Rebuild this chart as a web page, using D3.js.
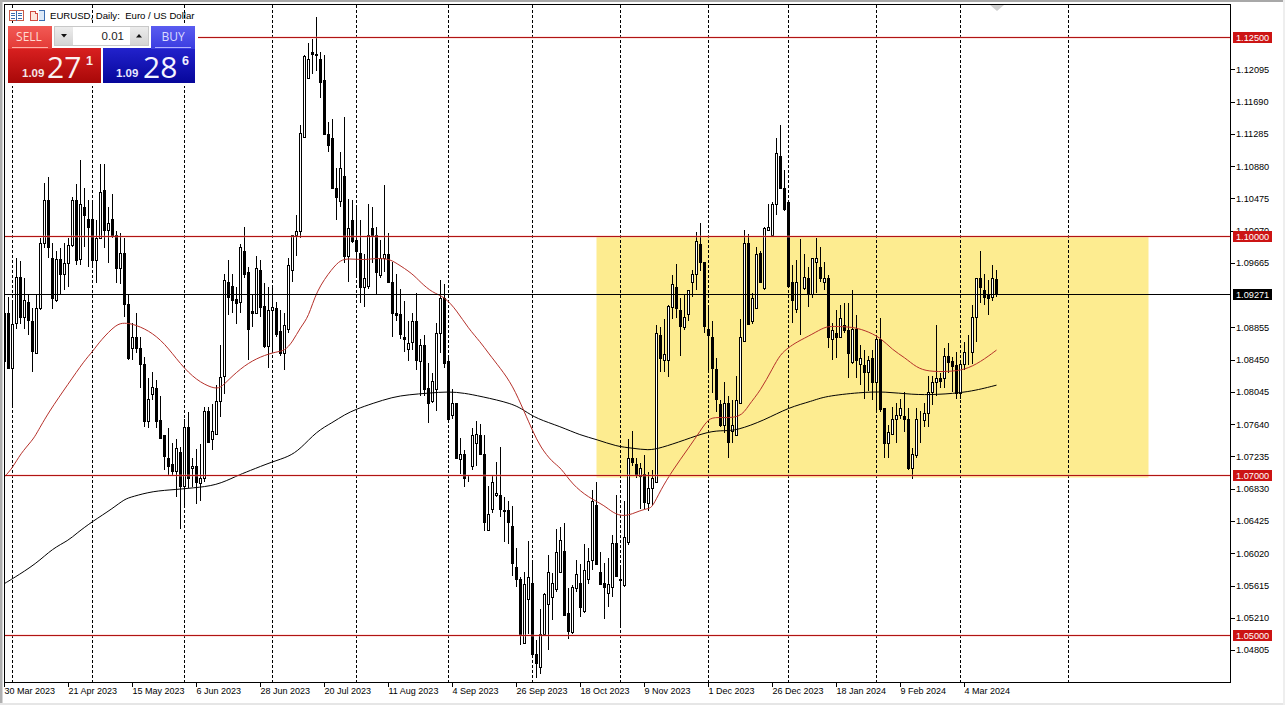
<!DOCTYPE html>
<html>
<head>
<meta charset="utf-8">
<script src="https://cdn.jsdelivr.net/npm/d3@7/dist/d3.min.js"></script>
<style>
html,body{margin:0;padding:0;background:#fff;overflow:hidden}
svg{display:block;font-family:"Liberation Sans",Arial,sans-serif}
</style>
</head>
<body>
<svg id="chart" width="1285" height="705"></svg>
<script>
const opens = [
1.0904,1.0904,1.0835,1.0891,1.0949,1.0899,1.0917,1.0894,1.0853,1.0910,
1.0991,1.1046,1.0973,1.0920,1.0971,1.0953,1.0966,1.0989,1.1045,1.0971,
1.1037,1.1021,1.1022,1.0970,1.0998,1.1058,1.1008,1.1022,1.1002,1.0960,
1.0979,1.0915,1.0860,1.0874,1.0860,1.0839,1.0768,1.0802,1.0810,1.0769,
1.0750,1.0721,1.0714,1.0705,1.0729,1.0687,1.0761,1.0709,1.0711,1.0690,
1.0697,1.0781,1.0746,1.0752,1.0793,1.0825,1.0943,1.0937,1.0921,1.0917,
1.0982,1.0955,1.0906,1.0904,1.0957,1.0912,1.0862,1.0907,1.0910,1.0881,
1.0853,1.0884,1.0957,1.1001,1.1006,1.1125,1.1199,1.1231,1.1229,1.1223,
1.1196,1.1128,1.1123,1.1061,1.1044,1.1076,1.0975,1.1020,1.0995,1.0979,
1.0936,1.0938,1.1010,1.1002,1.0951,1.0972,1.0978,1.0943,1.0903,1.0902,
1.0874,1.0858,1.0867,1.0894,1.0843,1.0863,1.0809,1.0793,1.0808,1.0878,
1.0923,1.0843,1.0775,1.0790,1.0720,1.0726,1.0696,1.0712,1.0741,1.0751,
1.0727,1.0631,1.0657,1.0675,1.0675,1.0656,1.0656,1.0636,1.0585,1.0570,
1.0489,1.0544,1.0565,1.0476,1.0459,1.0501,1.0538,1.0547,1.0557,1.0579,
1.0605,1.0527,1.0503,1.0558,1.0565,1.0530,1.0570,1.0594,1.0662,1.0578,
1.0565,1.0552,1.0560,1.0615,1.0570,1.0562,1.0616,1.0721,1.0714,1.0699,
1.0702,1.0665,1.0684,1.0691,1.0876,1.0845,1.0845,1.0911,1.0936,1.0907,
1.0886,1.0902,1.0942,1.0953,1.0990,1.0967,1.0883,1.0874,1.0833,1.0789,
1.0763,1.0790,1.0755,1.0751,1.0791,1.0869,1.0992,1.0893,1.0910,1.0979,
1.0935,1.1008,1.1001,1.1041,1.1101,1.1060,1.1043,1.0942,1.0908,1.0940,
1.0935,1.0948,1.0927,1.0967,1.0961,1.0943,1.0947,1.0871,1.0879,1.0873,
1.0888,1.0882,1.0842,1.0883,1.0839,1.0838,1.0830,1.0847,1.0817,1.0871,
1.0784,1.0741,1.0752,1.0771,1.0776,1.0774,1.0770,1.0709,1.0725,1.0771,
1.0769,1.0778,1.0805,1.0817,1.0822,1.0822,1.0849,1.0843,1.0838,1.0803,
1.0840,1.0855,1.0854,1.0898,1.0947,1.0932,1.0926,1.0924,1.0946];
const closes = [
1.0843,1.0835,1.0890,1.0949,1.0899,1.0920,1.0895,1.0856,1.0910,1.0991,
1.1046,1.0986,1.0922,1.0971,1.0953,1.0966,1.0989,1.1045,1.0970,1.1040,
1.1026,1.1012,1.0970,1.0998,1.1056,1.1008,1.1016,1.1001,1.0960,1.0979,
1.0915,1.0847,1.0873,1.0860,1.0839,1.0768,1.0796,1.0811,1.0768,1.0747,
1.0724,1.0712,1.0705,1.0734,1.0687,1.0761,1.0697,1.0712,1.0691,1.0697,
1.0781,1.0742,1.0756,1.0793,1.0823,1.0945,1.0924,1.0920,1.0916,1.0986,
1.0953,1.0884,1.0903,1.0960,1.0911,1.0862,1.0907,1.0911,1.0877,1.0853,
1.0888,1.0964,1.1001,1.1007,1.1129,1.1226,1.1222,1.1229,1.1227,1.1193,
1.1128,1.1114,1.1060,1.1049,1.1085,1.0975,1.1010,1.0994,1.0982,1.0936,
1.0948,1.1001,1.1001,1.0955,1.0973,1.0978,1.0942,1.0903,1.0901,1.0877,
1.0871,1.0866,1.0894,1.0844,1.0863,1.0808,1.0790,1.0818,1.0879,1.0923,
1.0841,1.0770,1.0791,1.0721,1.0726,1.0696,1.0696,1.0750,1.0752,1.0727,
1.0641,1.0651,1.0691,1.0677,1.0658,1.0655,1.0641,1.0590,1.0570,1.0499,
1.0564,1.0572,1.0476,1.0464,1.0501,1.0551,1.0578,1.0565,1.0603,1.0618,
1.0525,1.0505,1.0559,1.0576,1.0534,1.0581,1.0592,1.0668,1.0589,1.0564,
1.0560,1.0563,1.0615,1.0573,1.0568,1.0622,1.0722,1.0716,1.0700,1.0709,
1.0666,1.0684,1.0697,1.0878,1.0847,1.0852,1.0912,1.0940,1.0910,1.0887,
1.0899,1.0933,1.0952,1.0994,1.0967,1.0887,1.0876,1.0835,1.0796,1.0763,
1.0791,1.0742,1.0763,1.0794,1.0873,1.0991,1.0890,1.0923,1.0978,1.0942,
1.1010,1.1011,1.1041,1.1105,1.1060,1.1034,1.0937,1.0920,1.0943,1.0940,
1.0949,1.0929,1.0972,1.0972,1.0948,1.0948,1.0873,1.0882,1.0874,1.0897,
1.0882,1.0853,1.0884,1.0845,1.0847,1.0830,1.0845,1.0817,1.0871,1.0783,
1.0741,1.0754,1.0771,1.0776,1.0784,1.0771,1.0709,1.0726,1.0771,1.0770,
1.0778,1.0805,1.0817,1.0822,1.0818,1.0849,1.0842,1.0837,1.0803,1.0839,
1.0854,1.0854,1.0898,1.0947,1.0936,1.0924,1.0923,1.0947,1.09271];
const highs = [
1.0910,1.0924,1.0916,1.0972,1.0969,1.0948,1.0928,1.0910,1.0928,1.0998,
1.1067,1.1074,1.0992,1.0982,1.0985,1.0991,1.0998,1.1049,1.1066,1.1095,
1.1061,1.1045,1.1043,1.1020,1.1090,1.1090,1.1036,1.1053,1.1007,1.1004,
1.0998,1.0928,1.0891,1.0903,1.0873,1.0848,1.0822,1.0829,1.0820,1.0800,
1.0750,1.0759,1.0741,1.0746,1.0735,1.0771,1.0779,1.0722,1.0733,1.0739,
1.0786,1.0785,1.0789,1.0813,1.0863,1.0952,1.0970,1.0953,1.0936,1.0990,
1.1011,1.0961,1.0926,1.0975,1.0970,1.0941,1.0936,1.0937,1.0917,1.0907,
1.0903,1.0972,1.1001,1.1026,1.1139,1.1227,1.1243,1.1248,1.1275,1.1231,
1.1227,1.1143,1.1147,1.1086,1.1106,1.1149,1.1047,1.1045,1.1036,1.1020,
1.0978,1.1041,1.1036,1.1011,1.0995,1.1064,1.1004,1.0967,1.0952,1.0934,
1.0918,1.0893,1.0903,1.0929,1.0871,1.0876,1.0841,1.0828,1.0891,1.0945,
1.0940,1.0850,1.0808,1.0791,1.0747,1.0731,1.0699,1.0759,1.0768,1.0764,
1.0750,1.0687,1.0700,1.0717,1.0735,1.0672,1.0668,1.0661,1.0608,1.0572,
1.0578,1.0617,1.0590,1.0493,1.0532,1.0552,1.0600,1.0577,1.0633,1.0635,
1.0640,1.0558,1.0562,1.0594,1.0589,1.0614,1.0609,1.0682,1.0691,1.0604,
1.0590,1.0596,1.0625,1.0675,1.0583,1.0667,1.0746,1.0756,1.0722,1.0715,
1.0725,1.0704,1.0706,1.0888,1.0886,1.0896,1.0913,1.0951,1.0965,1.0922,
1.0926,1.0933,1.0958,1.1005,1.1016,1.0967,1.0913,1.0894,1.0847,1.0794,
1.0817,1.0800,1.0794,1.0825,1.0896,1.1008,1.1003,1.0929,1.0986,1.0982,
1.1011,1.1040,1.1043,1.1123,1.1139,1.1083,1.1043,1.0964,1.0970,1.0997,
1.0978,1.0961,1.0972,1.0998,1.0986,1.0967,1.0951,1.0891,1.0907,1.0913,
1.0916,1.0916,1.0932,1.0901,1.0863,1.0857,1.0850,1.0857,1.0873,1.0897,
1.0784,1.0763,1.0785,1.0790,1.0795,1.0805,1.0784,1.0734,1.0784,1.0781,
1.0790,1.0824,1.0824,1.0888,1.0828,1.0859,1.0866,1.0848,1.0854,1.0844,
1.0867,1.0876,1.0913,1.0947,1.0981,1.0953,1.0945,1.0964,1.0958];
const lows = [
1.0841,1.0834,1.0784,1.0884,1.0890,1.0884,1.0876,1.0829,1.0852,1.0907,
1.0985,1.0972,1.0908,1.0917,1.0928,1.0932,1.0936,1.0986,1.0964,1.0964,
1.0986,1.0961,1.0964,1.0941,1.0996,1.0985,1.0966,1.0998,1.0941,1.0940,
1.0898,1.0845,1.0844,1.0853,1.0810,1.0761,1.0759,1.0794,1.0759,1.0746,
1.0707,1.0700,1.0700,1.0672,1.0633,1.0660,1.0684,1.0685,1.0664,1.0667,
1.0691,1.0741,1.0731,1.0751,1.0773,1.0802,1.0901,1.0904,1.0890,1.0904,
1.0948,1.0844,1.0886,1.0903,1.0898,1.0859,1.0835,1.0857,1.0873,1.0849,
1.0832,1.0878,1.0943,1.0975,1.0998,1.1124,1.1198,1.1203,1.1207,1.1173,
1.1127,1.1106,1.1059,1.1020,1.1036,1.0966,1.0942,1.0992,1.0947,1.0916,
1.0911,1.0934,1.0966,1.0927,1.0948,1.0955,1.0941,1.0873,1.0894,1.0871,
1.0855,1.0843,1.0857,1.0832,1.0800,1.0800,1.0765,1.0791,1.0781,1.0853,
1.0834,1.0769,1.0771,1.0720,1.0701,1.0685,1.0692,1.0706,1.0712,1.0726,
1.0630,1.0630,1.0652,1.0672,1.0648,1.0616,1.0613,1.0574,1.0560,1.0487,
1.0488,1.0501,1.0474,1.0446,1.0450,1.0498,1.0480,1.0518,1.0553,1.0578,
1.0524,1.0494,1.0501,1.0553,1.0522,1.0527,1.0564,1.0581,1.0588,1.0563,
1.0520,1.0534,1.0547,1.0572,1.0511,1.0560,1.0612,1.0711,1.0697,1.0657,
1.0658,1.0655,1.0663,1.0690,1.0829,1.0829,1.0823,1.0896,1.0897,1.0850,
1.0882,1.0893,1.0924,1.0933,1.0956,1.0878,1.0828,1.0803,1.0779,1.0761,
1.0753,1.0722,1.0740,1.0750,1.0790,1.0868,1.0889,1.0890,1.0908,1.0941,
1.0933,1.1007,1.1000,1.1026,1.1059,1.1032,1.0936,1.0891,1.0904,1.0876,
1.0932,1.0911,1.0922,1.0929,1.0942,1.0932,1.0860,1.0844,1.0847,1.0872,
1.0879,1.0822,1.0840,1.0822,1.0813,1.0795,1.0806,1.0794,1.0778,1.0779,
1.0722,1.0721,1.0751,1.0740,1.0771,1.0754,1.0707,1.0695,1.0722,1.0741,
1.0760,1.0760,1.0788,1.0800,1.0810,1.0810,1.0828,1.0804,1.0795,1.0796,
1.0832,1.0838,1.0840,1.0867,1.0916,1.0913,1.0901,1.0918,1.0924];

// moving averages read at selected bars
const maFastBars = [1,3,5,8,9,12,17,21,23,25,29,31,33,37,41,45,49,53,55,57,61,65,69,71,73,75,77,79,83,85,87,91,93,97,99,103,105,108,111,114,117,120,122,125,128,131,133,135,138,140,143,147,151,153,156,160,162,163,165,168,172,175,177,179,185,187,190,193,195,197,199,203,206,208,213,216,220,223,226,229,232,237,241,245,249];
const maFast = [1.0698,1.0709,1.0727,1.0744,1.0752,1.0779,1.0815,1.0844,1.0855,1.0869,1.0890,1.0891,1.0890,1.0882,1.0866,1.0839,1.0819,1.0809,1.0809,1.0820,1.0838,1.0849,1.0855,1.0856,1.0867,1.0886,1.0898,1.0932,1.0960,1.0970,1.0972,1.0970,1.0972,1.0972,1.0966,1.0953,1.0942,1.0929,1.0924,1.0907,1.0884,1.0867,1.0853,1.0834,1.0813,1.0779,1.0756,1.0735,1.0716,1.0710,1.0688,1.0672,1.0662,1.0653,1.0647,1.0656,1.0658,1.0660,1.0681,1.0706,1.0734,1.0756,1.0771,1.0773,1.0771,1.0788,1.0806,1.0834,1.0852,1.0860,1.0867,1.0877,1.0886,1.0887,1.0886,1.0882,1.0873,1.0857,1.0848,1.0835,1.0830,1.0830,1.0832,1.0842,1.0857];
const maSlowBars = [1,3,9,13,17,19,23,28,31,33,38,44,48,54,59,62,68,72,75,79,83,86,89,93,98,102,107,112,116,120,128,131,134,140,145,149,154,158,162,165,171,177,181,184,191,197,203,206,215,221,228,234,242,249];
const maSlow = [1.0564,1.0570,1.0589,1.0608,1.0618,1.0627,1.0642,1.0658,1.0670,1.0673,1.0680,1.0682,1.0684,1.0687,1.0699,1.0705,1.0717,1.0723,1.0733,1.0755,1.0766,1.0776,1.0783,1.0790,1.0798,1.0801,1.0803,1.0805,1.0803,1.0799,1.0790,1.0781,1.0771,1.0761,1.0750,1.0745,1.0736,1.0734,1.0731,1.0734,1.0744,1.0755,1.0756,1.0756,1.0769,1.0785,1.0793,1.0799,1.0804,1.0805,1.0801,1.0801,1.0804,1.0813];

const levelPrices = [1.125, 1.1, 1.07, 1.05];
const currentPrice = 1.09271;
const zoneTop = 1.1, zoneBottom = 1.0697, zoneStartBar = 149, zoneEndBar = 287;
const separatorBars = [3,23,46,68,89,112,133,155,177,197,219,240,267];
const dateBars = [1,17,33,49,65,81,97,113,129,145,161,177,193,209,225,241];
const dateLabels = ["30 Mar 2023","21 Apr 2023","15 May 2023","6 Jun 2023","28 Jun 2023","20 Jul 2023","11 Aug 2023","4 Sep 2023","26 Sep 2023","18 Oct 2023","9 Nov 2023","1 Dec 2023","26 Dec 2023","18 Jan 2024","9 Feb 2024","4 Mar 2024"];
const priceTicks = [1.12095,1.1169,1.11285,1.1088,1.10475,1.1007,1.09665,1.08855,1.0845,1.08045,1.0764,1.07235,1.0683,1.06425,1.0602,1.05615,1.0521,1.04805];
const chartTitle = "EURUSD, Daily:  Euro / US Dollar";

const svg = d3.select("#chart");
const L = 4.5, R = 1230.5, T = 4.5, B = 682.5;
const x = d3.scaleLinear().domain([1,249]).range([4.5,996.5]);
const y = d3.scaleLinear().domain([1.125,1.05]).range([37,634.5]);
const RED = "#b01414";

// window edges
svg.append("rect").attr("x",0).attr("y",0).attr("width",1285).attr("height",2).attr("fill","#a8a8a8");
svg.append("rect").attr("x",0).attr("y",0).attr("width",2.5).attr("height",705).attr("fill","#b0b0b0");
svg.append("rect").attr("x",0).attr("y",703).attr("width",1285).attr("height",2).attr("fill","#e6e6e6");
svg.append("rect").attr("x",1283).attr("y",0).attr("width",2).attr("height",705).attr("fill","#eeeeee");

const clip = svg.append("defs").append("clipPath").attr("id","plot");
clip.append("rect").attr("x",L).attr("y",T).attr("width",R-L).attr("height",B-T);
const plot = svg.append("g").attr("clip-path","url(#plot)");

// zone
plot.append("rect")
  .attr("x",x(zoneStartBar)).attr("width",x(zoneEndBar)-x(zoneStartBar))
  .attr("y",y(zoneTop)).attr("height",y(zoneBottom)-y(zoneTop))
  .attr("fill","#fdec90");

// separators
plot.selectAll("line.sep").data(separatorBars).join("line")
  .attr("class","sep")
  .attr("x1",d=>Math.floor(x(d))+0.5).attr("x2",d=>Math.floor(x(d))+0.5)
  .attr("y1",T).attr("y2",B)
  .attr("stroke","#000").attr("stroke-width",1).attr("stroke-dasharray","3,2")
  .attr("shape-rendering","crispEdges");

// candles
const bars = d3.range(opens.length).map(i=>({k:i+1,o:opens[i],h:highs[i],l:lows[i],c:closes[i]}));
const g = plot.append("g").attr("shape-rendering","crispEdges");
g.selectAll("line.wick").data(bars).join("line")
  .attr("class","wick")
  .attr("x1",d=>x(d.k)).attr("x2",d=>x(d.k))
  .attr("y1",d=>y(d.h)).attr("y2",d=>y(d.l))
  .attr("stroke","#000");
g.selectAll("rect.body").data(bars).join("rect")
  .attr("class","body")
  .attr("x",d=>x(d.k)-1).attr("width",2)
  .attr("y",d=>Math.round(y(Math.max(d.o,d.c)))+0.5)
  .attr("height",d=>Math.max(0,Math.round(y(Math.min(d.o,d.c)))-Math.round(y(Math.max(d.o,d.c)))))
  .attr("fill",d=>d.c>=d.o?"#fff":"#000")
  .attr("stroke","#000");

// moving averages
const maLine = d3.line().x(d=>x(d[0])).y(d=>y(d[1])).curve(d3.curveBasis);
plot.append("path").attr("d",maLine(d3.zip(maSlowBars,maSlow))).attr("fill","none").attr("stroke","#000").attr("stroke-width",1);
plot.append("path").attr("d",maLine(d3.zip(maFastBars,maFast))).attr("fill","none").attr("stroke","#b5302a").attr("stroke-width",1);

// levels
const levelY = p => Math.round(y(p))+0.5;
plot.selectAll("line.halo").data(levelPrices).join("line").attr("class","halo")
  .attr("x1",L).attr("x2",R).attr("y1",levelY).attr("y2",levelY)
  .attr("stroke","#f4a8a0").attr("stroke-opacity",0.3).attr("stroke-width",3);
plot.selectAll("line.lvl").data(levelPrices).join("line").attr("class","lvl")
  .attr("x1",L).attr("x2",R).attr("y1",levelY).attr("y2",levelY)
  .attr("stroke",RED).attr("stroke-width",1);
plot.append("line").attr("class","current").attr("x1",L).attr("x2",R)
  .attr("y1",levelY(currentPrice)).attr("y2",levelY(currentPrice))
  .attr("stroke","#000");

// frame
svg.append("rect").attr("x",L).attr("y",T).attr("width",R-L).attr("height",B-T)
  .attr("fill","none").attr("stroke","#000").attr("shape-rendering","crispEdges");

// axes
const yAxis = d3.axisRight(y).tickValues(priceTicks).tickSize(4).tickPadding(1.5).tickFormat(d3.format(".5f"));
const gy = svg.append("g").attr("transform",`translate(${R},0)`).call(yAxis);
gy.select(".domain").remove();
gy.selectAll("text").attr("font-family","Liberation Sans").attr("font-size",9.2).attr("fill","#000");
gy.selectAll("line").attr("stroke","#000").attr("shape-rendering","crispEdges");

const xAxis = d3.axisBottom(x).tickValues(dateBars).tickSize(4).tickPadding(0).tickFormat((d,i)=>dateLabels[i]);
const gx = svg.append("g").attr("transform",`translate(-0.5,${B})`).call(xAxis);
gx.select(".domain").remove();
gx.selectAll("text").attr("text-anchor","start").attr("x",0).attr("dy","0.8em").attr("font-family","Liberation Sans").attr("font-size",9).attr("fill","#000");
gx.selectAll("line").attr("stroke","#000").attr("shape-rendering","crispEdges");

// price tags
const tags = levelPrices.map(p=>({p,fill:"#cc1414"})).concat([{p:currentPrice,fill:"#000"}]);
const tg = svg.selectAll("g.tag").data(tags).join("g").attr("class","tag");
tg.append("rect").attr("x",1233).attr("width",39).attr("y",d=>Math.round(y(d.p))-5).attr("height",11).attr("fill",d=>d.fill);
tg.append("text").attr("x",1236).attr("y",d=>Math.round(y(d.p))+3.5).attr("font-size",9.2).attr("fill","#fff").text(d=>d.p.toFixed(5));

// marker at the top
svg.append("path").attr("d","M990,5 L1004,5 L997,11 Z").attr("fill","#cfcfcf");

// title and icons
svg.append("text").attr("x",50).attr("y",19).attr("font-size",9.6).attr("fill","#000").attr("xml:space","preserve").text(chartTitle);
const ic = svg.append("g").attr("fill","none").attr("stroke-width",1).attr("shape-rendering","crispEdges");
ic.append("rect").attr("x",9.5).attr("y",10.5).attr("width",14).attr("height",10).attr("stroke","#c85a48").attr("fill","#fff");
ic.append("path").attr("d","M16.5,10.5V20.5M11,13.5H15M18,13.5H22M11,15.5H15M18,15.5H22M11,18.5H15M18,18.5H22").attr("stroke","#3a6db0");
ic.append("path").attr("d","M30.5,11.5H35.5V13.5H37.5V20.5H30.5Z").attr("stroke","#d04a40").attr("fill","#fde6dc");
ic.append("path").attr("d","M38.5,10.5H44.5V20.5H38.5").attr("stroke","#3a6db0").attr("fill","#dce9f8");

// trade panel
const defs = svg.select("defs");
function grad(id,a,b){const l=defs.append("linearGradient").attr("id",id).attr("x1",0).attr("x2",0).attr("y1",0).attr("y2",1);
  l.append("stop").attr("offset",0).attr("stop-color",a);l.append("stop").attr("offset",1).attr("stop-color",b);}
grad("gSell","#f25a55","#e33a36");grad("gBuy","#5a5cf0","#3a3ce0");
grad("gRed","#d92020","#a80808");grad("gBlue","#2222cc","#06069a");grad("gGray","#ececec","#d4d4d4");
const panel = svg.append("g");
panel.append("rect").attr("x",5).attr("y",24).attr("width",193).attr("height",62).attr("fill","#fff");
panel.append("rect").attr("x",8).attr("y",48).attr("width",93).attr("height",35).attr("fill","url(#gRed)");
panel.append("rect").attr("x",103).attr("y",48).attr("width",92).attr("height",35).attr("fill","url(#gBlue)");
panel.append("rect").attr("x",8).attr("y",26).attr("width",44).attr("height",23).attr("fill","url(#gSell)");
panel.append("rect").attr("x",151).attr("y",26).attr("width",44).attr("height",23).attr("fill","url(#gBuy)");
panel.append("line").attr("x1",12).attr("x2",48).attr("y1",47.5).attr("y2",47.5).attr("stroke","#ffb0a8");
panel.append("line").attr("x1",155).attr("x2",191).attr("y1",47.5).attr("y2",47.5).attr("stroke","#b0b0ff");
panel.append("rect").attr("x",54.5).attr("y",26.5).attr("width",94).attr("height",19).attr("fill","#fff").attr("stroke","#c8c8c8");
panel.append("rect").attr("x",55).attr("y",27).attr("width",18).attr("height",18).attr("fill","url(#gGray)");
panel.append("rect").attr("x",130).attr("y",27).attr("width",18).attr("height",18).attr("fill","url(#gGray)");
panel.append("path").attr("d","M61,34 L67,34 L64,37.5 Z").attr("fill","#111");
panel.append("path").attr("d","M136,37.5 L142,37.5 L139,34 Z").attr("fill","#111");
const ptxt = (tx,ty,s,fs,fill,anchor,weight,family)=>panel.append("text").attr("x",tx).attr("y",ty).attr("font-size",fs).attr("fill",fill)
  .attr("text-anchor",anchor||"start").attr("font-weight",weight||"normal").attr("font-family",family||null).text(s);
const THIN = "Open Sans";
ptxt(29,41,"SELL",12,"#ffdcd2","middle","normal",THIN);
ptxt(173,41,"BUY",12,"#dcdcff","middle","normal",THIN);
ptxt(124,40,"0.01",11.5,"#222","end");
ptxt(22,77,"1.09",11.5,"#f4e4e4","start","bold");
ptxt(47,78,"27",30,"#fbf2f2","start","400",THIN);
ptxt(86,65,"1",12.5,"#f8ecec","start","bold");
ptxt(116,77,"1.09",11.5,"#e8e8ff","start","bold");
ptxt(143,78,"28",30,"#f4f4ff","start","400",THIN);
ptxt(182,65,"6",12.5,"#f0f0ff","start","bold");
</script>
</body>
</html>
